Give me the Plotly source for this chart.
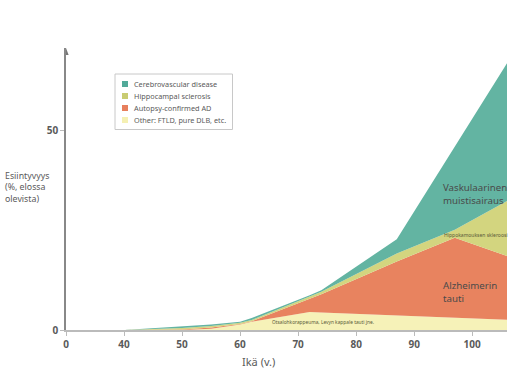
import plotly.graph_objects as go

# Data (percent of living population, stacked layers)
ages = [40, 50, 55, 60, 62, 72, 74, 87, 97, 106]
other = [0, 0, 0.3, 1.4, 2.1, 4.5, 4.4, 3.6, 3.0, 2.6]
alzheimer = [0, 0.1, 0.3, 0.1, 0.1, 3.3, 4.6, 13.6, 20.2, 16.0]
hippocampal = [0, 0.4, 0.4, 0.3, 0.3, 0.5, 0.6, 2.0, 2.0, 13.8]
cerebrovascular = [0, 0.5, 0.4, 0.3, 0.5, 0.4, 0.4, 3.6, 20.8, 34.6]

x_tick_vals = [30, 40, 50, 60, 70, 80, 90, 100]
x_tick_text = ["0", "40", "50", "60", "70", "80", "90", "100"]
y_tick_vals = [0, 50]

legend_names = ["Cerebrovascular disease", "Hippocampal sclerosis",
                "Autopsy-confirmed AD", "Other: FTLD, pure DLB, etc."]

C_TEAL = "#63b4a2"
C_HIPPO = "#d3d57f"
C_AD = "#e8835f"
C_OTHER = "#f6f2b8"
legend_colors = ["#52aa99", "#c9cc72", "#e77f5d", "#f5f0b3"]

FONT = "Noto Sans"
GRAY = "#5a5a5a"

# plot-area geometry in pixels (for paper-coordinate conversions of decorations)
L, R, T, B = 66, 507, 48, 330
def px(xp):
    return (xp - L) / (R - L)
def py(yp):
    return (B - yp) / (B - T)

fig = go.Figure()
layers = [(other, C_OTHER), (alzheimer, C_AD), (hippocampal, C_HIPPO), (cerebrovascular, C_TEAL)]
for vals, col in layers:
    fig.add_trace(go.Scatter(x=ages, y=vals, mode="lines", stackgroup="one",
                             line=dict(width=0, color=col), fillcolor=col,
                             showlegend=False, hoverinfo="skip"))

# manual legend box
fig.add_shape(type="rect", xref="paper", yref="paper",
              x0=px(115), x1=px(232.5), y0=py(129.5), y1=py(74),
              line=dict(color="#c8c8c8", width=1), fillcolor="white", layer="above")
for i, (name, col) in enumerate(zip(legend_names, legend_colors)):
    yc = 84 + 12 * i
    fig.add_shape(type="rect", xref="paper", yref="paper",
                  x0=px(122), x1=px(128), y0=py(yc + 3), y1=py(yc - 3),
                  line=dict(width=0), fillcolor=col, layer="above")
    fig.add_annotation(xref="paper", yref="paper", x=px(131.5), y=py(yc),
                       text=name, showarrow=False, xanchor="left", yanchor="middle",
                       font=dict(family=FONT, size=7.3, color=GRAY))

annots = [
    dict(x=94.7, y=34.2, text="Vaskulaarinen<br>muistisairaus", size=9.7, color="#4a4a4a"),
    dict(x=94.8, y=23.9, text="Hippokamouksen skleroosi", size=5.0, color="#5a5a3a"),
    dict(x=94.7, y=9.5, text="Alzheimerin<br>tauti", size=9.7, color="#4a4a4a"),
    dict(x=65.2, y=2.0, text="Otsalohkorappeuma, Levyn kappale tauti jne.", size=4.8, color="#5a5a3a"),
]
for a in annots:
    fig.add_annotation(x=a["x"], y=a["y"], text=a["text"], showarrow=False,
                       xanchor="left", yanchor="middle", align="left",
                       font=dict(family=FONT, size=a["size"], color=a["color"]))

fig.add_annotation(xref="paper", yref="paper", x=px(3), y=py(187),
                   text="Esiintyvyys<br>(%, elossa<br>olevista)", showarrow=False,
                   xanchor="left", yanchor="middle", align="left",
                   font=dict(family=FONT, size=8.8, color=GRAY))
fig.add_annotation(x=63.1, xref="x", yref="paper", y=py(361), text="Ikä (v.)",
                   showarrow=False, xanchor="center", yanchor="middle",
                   font=dict(family=FONT, size=11, color=GRAY))

# arrow head on y axis
fig.add_shape(type="path", xref="x", yref="paper",
              path="M 29.55,0.975 L 30.45,0.975 L 30,1.0 Z",
              fillcolor="#777", line=dict(width=0))

fig.update_layout(
    width=510, height=382,
    margin=dict(l=L, r=510 - R, t=T, b=382 - B),
    plot_bgcolor="white", paper_bgcolor="white",
    font=dict(family=FONT, color=GRAY),
    showlegend=False,
)
fig.update_xaxes(range=[30, 106], tickvals=x_tick_vals, ticktext=x_tick_text,
                 showgrid=False, zeroline=False, showline=True, linecolor="#bbbbbb",
                 linewidth=1.5, ticks="outside", ticklen=4, tickcolor="#bbbbbb",
                 tickfont=dict(family=FONT, size=10, color=GRAY, weight="bold"))
fig.update_yaxes(range=[0, 70.85], tickvals=y_tick_vals, showgrid=False,
                 zeroline=False, showline=True, linecolor="#888888", linewidth=1.5,
                 ticks="outside", ticklen=4, tickcolor="#bbbbbb",
                 tickfont=dict(family=FONT, size=10, color=GRAY, weight="bold"))

fig.write_html("out.html", config={"displayModeBar": False},
               post_script="document.body.style.margin='0';")
